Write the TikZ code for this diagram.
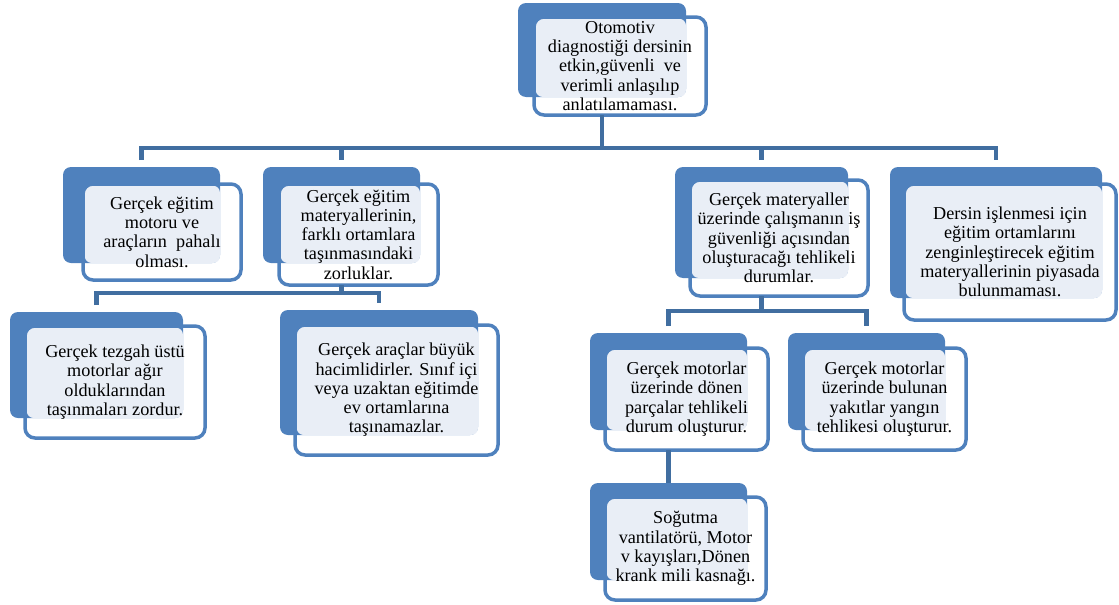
\documentclass[tikz,border=0pt]{standalone}
\usepackage{fontspec}
\setmainfont{Liberation Serif}
\usepackage{tikz}
\usetikzlibrary{positioning}

\definecolor{boxblue}{RGB}{79,129,189}
\definecolor{lineblue}{RGB}{65,110,160}
\definecolor{paleblue}{RGB}{233,238,246}

\begin{document}
\begin{tikzpicture}[x=1pt, y=-1pt,
					backbox/.style={fill=boxblue, rounded corners=8pt, inner sep=0pt, outer sep=0pt},
					frontbox/.style={draw=boxblue, line width=3.5pt, rounded corners=10pt,
						inner sep=0pt, outer sep=0pt, align=center,
						font=\fontsize{18.2}{19.3}\selectfont},
					lightpart/.style={fill=paleblue, rounded corners=7pt},
					conn/.style={draw=lineblue, line width=4.5pt}]

\useasboundingbox (0,0) rectangle (1119,605);

% blue back plates
\node[backbox, minimum width=168pt, minimum height=94pt]  (top-back) at (602,50) {};
\node[backbox, minimum width=157pt, minimum height=96pt]  (a-back) at (141.5,215) {};
\node[backbox, minimum width=157pt, minimum height=96pt]  (b-back) at (341.5,215) {};
\node[backbox, minimum width=173pt, minimum height=106pt] (c-back) at (96.5,365) {};
\node[backbox, minimum width=198pt, minimum height=125pt] (d-back) at (379,372.5) {};
\node[backbox, minimum width=173pt, minimum height=111pt] (e-back) at (761.5,222.5) {};
\node[backbox, minimum width=212pt, minimum height=131pt] (f-back) at (996,232.5) {};
\node[backbox, minimum width=157pt, minimum height=97pt]  (g-back) at (668.5,381.5) {};
\node[backbox, minimum width=157pt, minimum height=97pt]  (h-back) at (866.5,381.5) {};
\node[backbox, minimum width=157pt, minimum height=97pt]  (i-back) at (668.5,531.5) {};

% pale overlap between plate and card
\fill[lightpart] (534+1.75,17+1.75) rectangle (top-back.south east);
\fill[lightpart] (83+1.75,184+1.75) rectangle (a-back.south east);
\fill[lightpart] (279+1.75,184+1.75) rectangle (b-back.south east);
\fill[lightpart] (25+1.75,326+1.75) rectangle (c-back.south east);
\fill[lightpart] (295+1.75,325+1.75) rectangle (d-back.south east);
\fill[lightpart] (690+1.75,180+1.75) rectangle (e-back.south east);
\fill[lightpart] (904+1.75,184+1.75) rectangle (f-back.south east);
\fill[lightpart] (605+1.75,348+1.75) rectangle (g-back.south east);
\fill[lightpart] (803+1.75,348+1.75) rectangle (h-back.south east);
\fill[lightpart] (605+1.75,497+1.75) rectangle (i-back.south east);

% cards
\node[frontbox, minimum width=172pt, minimum height=98pt] (top) at (620,66)
	{Otomotiv\\ diagnostiği dersinin\\ etkin,güvenli \ ve\\ verimli anlaşılıp\\ anlatılamaması.};
\node[frontbox, minimum width=158pt, minimum height=96pt] (a) at (162,232)
	{Gerçek eğitim\\ motoru ve\\ araçların \ pahalı\\ olması.};
\node[frontbox, minimum width=159pt, minimum height=101pt] (b) at (358.5,234.5)
	{Gerçek eğitim\\ materyallerinin,\\ farklı ortamlara\\ taşınmasındaki\\ zorluklar.};
\node[frontbox, minimum width=180pt, minimum height=112pt] (c) at (115,382)
	{Gerçek tezgah üstü\\ motorlar ağır\\ olduklarından\\ taşınmaları zordur.};
\node[frontbox, minimum width=203pt, minimum height=130pt] (d) at (396.5,390)
	{Gerçek araçlar büyük\\ hacimlidirler. Sınıf içi\\ veya uzaktan eğitimde\\ ev ortamlarına\\ taşınamazlar.};
\node[frontbox, minimum width=178pt, minimum height=116pt] (e) at (779,238)
	{Gerçek materyaller\\ üzerinde çalışmanın iş\\ güvenliği açısından\\ oluşturacağı tehlikeli\\ durumlar.};
\node[frontbox, minimum width=212pt, minimum height=136pt] (f) at (1010,252)
	{Dersin işlenmesi için\\ eğitim ortamlarını\\ zenginleştirecek eğitim\\ materyallerinin piyasada\\ bulunmaması.};
\node[frontbox, minimum width=163pt, minimum height=102pt] (g) at (686.5,399)
	{Gerçek motorlar\\ üzerinde dönen\\ parçalar tehlikeli\\ durum oluşturur.};
\node[frontbox, minimum width=163pt, minimum height=102pt] (h) at (884.5,399)
	{Gerçek motorlar\\ üzerinde bulunan\\ yakıtlar yangın\\ tehlikesi oluşturur.};
\node[frontbox, minimum width=161pt, minimum height=103pt] (i) at (685.5,548.5)
	{Soğutma\\ vantilatörü, Motor\\ v kayışları,Dönen\\ krank mili kasnağı.};

% connectors
\coordinate (bus1) at (602,148);
\draw[conn] (top-back |- top.south) -- (bus1);
\draw[conn] ([yshift=7pt]a-back.north) |- (bus1) -| ([yshift=7pt]f-back.north);
\draw[conn] (bus1 -| b-back) -- ([yshift=7pt]b-back.north);
\draw[conn] (bus1 -| e-back) -- ([yshift=7pt]e-back.north);

\draw[conn] (b-back |- b.south) -- ++(0,8) coordinate (bus2);
\draw[conn] ([yshift=7pt]c-back.north) |- (bus2) -| ([yshift=7pt]d-back.north);

\draw[conn] (e-back |- e.south) -- ++(0,15) coordinate (bus3);
\draw[conn] ([yshift=7pt]g-back.north) |- (bus3) -| ([yshift=7pt]h-back.north);

\draw[conn] (g-back |- g.south) -- (i-back.north);
\end{tikzpicture}
\end{document}
